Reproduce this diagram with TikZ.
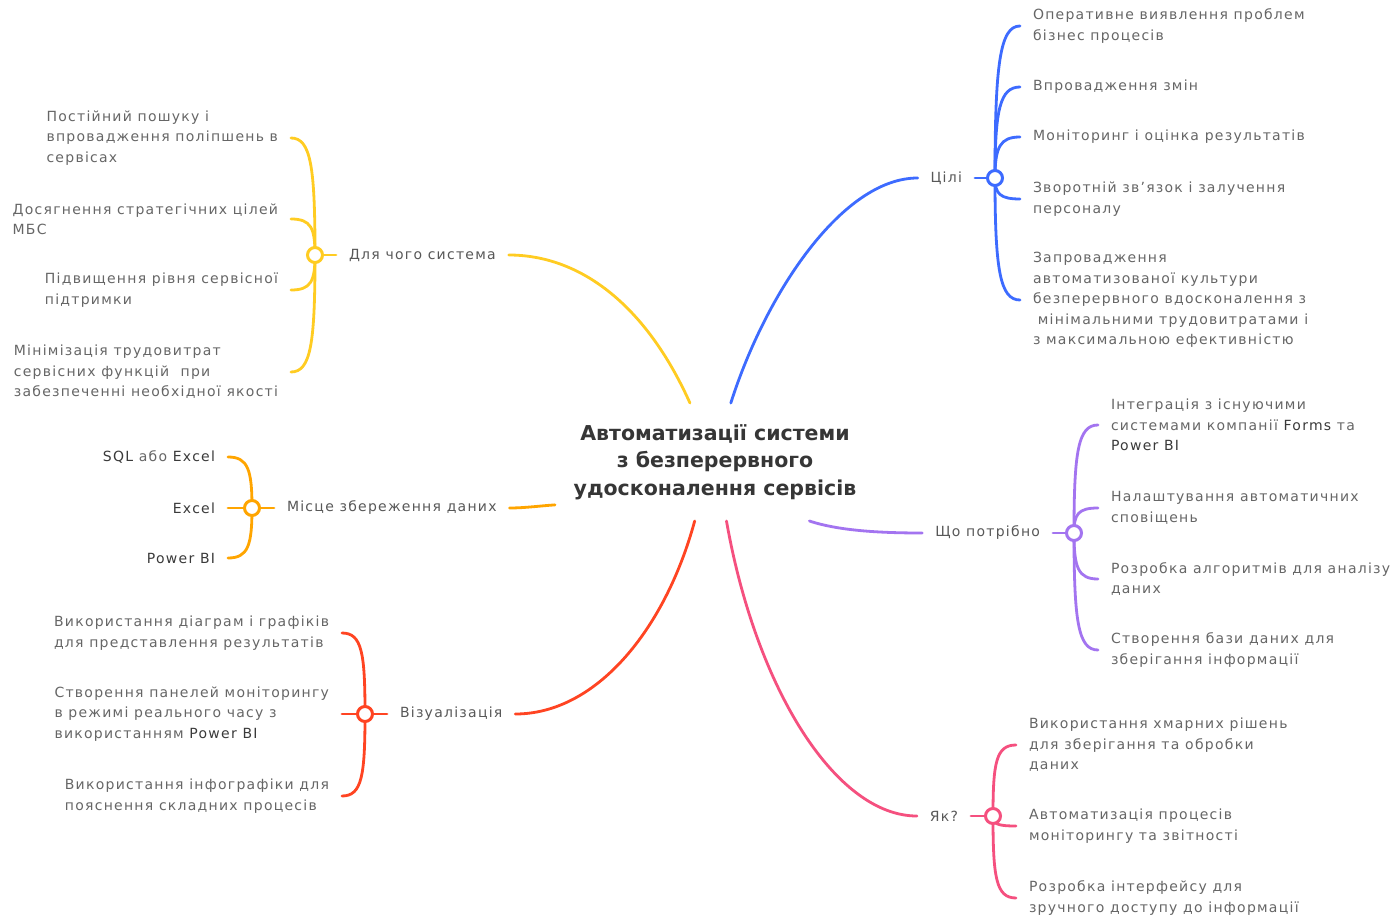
\documentclass[tikz,border=0pt]{standalone}
\usepackage{fontspec}
\setmainfont{DejaVu Sans}[LetterSpace=9]
\newfontfamily\headfont{DejaVu Sans}
\usetikzlibrary{calc,backgrounds}

\definecolor{cYel}{HTML}{FFCC22}
\definecolor{cOra}{HTML}{FFA500}
\definecolor{cRed}{HTML}{FF4422}
\definecolor{cBlu}{HTML}{3D6BFF}
\definecolor{cPur}{HTML}{A374F0}
\definecolor{cPnk}{HTML}{F5507F}
\definecolor{txt}{HTML}{666666}
\definecolor{lbl}{HTML}{585858}
\definecolor{head}{HTML}{363636}
\definecolor{latin}{HTML}{3A3A3A}

% leaf connectors: from a hub to a leaf on its left / right
\newcommand\legL[2]{\draw (#1.center) .. controls ($(#1.center)!0.75!(#1.center |- #2.east)$) and ($(#2.east)+(20,0)$) .. (#2.east);}
\newcommand\legR[2]{\draw (#1.center) .. controls ($(#1.center)!0.75!(#1.center |- #2.west)$) and ($(#2.west)+(-20,0)$) .. (#2.west);}
\newcommand\lat[1]{\textcolor{latin}{#1}}

\begin{document}
\begin{tikzpicture}[x=1pt,y=-1pt,
  every node/.style={inner sep=0pt, outer sep=0pt},
  leaf/.style={font=\fontsize{14}{20.4}\selectfont, text=txt, align=left, inner xsep=13pt, inner ysep=0pt},
  topic/.style={font=\fontsize{14}{20.4}\selectfont, text=lbl, inner xsep=13pt},
  hub/.style={circle, draw, fill=white, line width=3pt, minimum size=15pt, inner sep=0pt},
  link/.style={line width=2.8pt, line cap=round}]
\useasboundingbox (0,0) rectangle (1395,920);

% central topic
\node[minimum width=320pt, minimum height=118pt, align=center, text=head,
      font=\headfont\bfseries\fontsize{20.5}{27.5}\selectfont] (c) at (715,462)
  {Автоматизації системи\\з безперервного\\удосконалення сервісів};

% --- Для чого система (yellow)
\node[hub, draw=cYel] (hY) at (315,255) {};
\node[topic, anchor=west] (tY) at (336,255) {Для чого система};
\node[leaf, anchor=east] (y1) at (291,138) {Постійний пошуку і\\впровадження поліпшень в\\сервісах};
\node[leaf, anchor=east] (y2) at (291,219) {Досягнення стратегічних цілей\\МБС};
\node[leaf, anchor=east] (y3) at (291,290) {Підвищення рівня сервісної\\підтримки};
\node[leaf, anchor=east] (y4) at (291,372) {Мінімізація трудовитрат\\сервісних функцій \ при\\забезпеченні необхідної якості};

% --- Місце збереження даних (orange)
\node[hub, draw=cOra] (hO) at (252,508) {};
\node[topic, anchor=west] (tO) at (274,508) {Місце збереження даних};
\node[leaf, anchor=east] (o1) at (228,457) {\lat{SQL} або \lat{Excel}};
\node[leaf, anchor=east] (o2) at (228,508) {\lat{Excel}};
\node[leaf, anchor=east] (o3) at (228,558) {\lat{Power BI}};

% --- Візуалізація (red)
\node[hub, draw=cRed] (hR) at (365,714) {};
\node[topic, anchor=west] (tR) at (387,714) {Візуалізація};
\node[leaf, anchor=east] (r1) at (342,633) {Використання діаграм і графіків\\для представлення результатів};
\node[leaf, anchor=east] (r2) at (342,714) {Створення панелей моніторингу\\в режимі реального часу з\\використанням \lat{Power BI}};
\node[leaf, anchor=east] (r3) at (342,796) {Використання інфографіки для\\пояснення складних процесів};

% --- Цілі (blue)
\node[hub, draw=cBlu] (hB) at (995,178) {};
\node[topic, anchor=east] (tB) at (975,178) {Цілі};
\node[leaf, anchor=west] (b1) at (1020,26) {Оперативне виявлення проблем\\бізнес процесів};
\node[leaf, anchor=west] (b2) at (1020,87) {Впровадження змін};
\node[leaf, anchor=west] (b3) at (1020,137) {Моніторинг і оцінка результатів};
\node[leaf, anchor=west] (b4) at (1020,199) {Зворотній зв'язок і залучення\\персоналу};
\node[leaf, anchor=west] (b5) at (1020,300) {Запровадження\\автоматизованої культури\\безперервного вдосконалення з\\\hspace{0.35em}мінімальними трудовитратами і\\з максимальною ефективністю};

% --- Що потрібно (purple)
\node[hub, draw=cPur] (hP) at (1074,533) {};
\node[topic, anchor=east] (tP) at (1053,533) {Що потрібно};
\node[leaf, anchor=west] (p1) at (1098,425) {Інтеграція з існуючими\\системами компанії \lat{Forms} та\\\lat{Power BI}};
\node[leaf, anchor=west] (p2) at (1098,508) {Налаштування автоматичних\\сповіщень};
\node[leaf, anchor=west] (p3) at (1098,579) {Розробка алгоритмів для аналізу\\даних};
\node[leaf, anchor=west] (p4) at (1098,650) {Створення бази даних для\\зберігання інформації};

% --- Як? (pink)
\node[hub, draw=cPnk] (hK) at (993,816) {};
\node[topic, anchor=east] (tK) at (971,816) {Як?};
\node[leaf, anchor=west] (k1) at (1016,745) {Використання хмарних рішень\\для зберігання та обробки\\даних};
\node[leaf, anchor=west] (k2) at (1016,826) {Автоматизація процесів\\моніторингу та звітності};
\node[leaf, anchor=west] (k3) at (1016,898) {Розробка інтерфейсу для\\зручного доступу до інформації};

\begin{scope}[on background layer]
  \fill[white] (0,0) rectangle (1395,920);

  % main branches
  \begin{scope}[link]
    \draw[cYel] (c.113) .. controls ($(c.113)+(-45,-100)$) and ($(tY.east)+(70,0)$) .. (tY.east);
    \draw[cBlu] (c.75.7) .. controls ($(c.75.7)+(35,-110)$) and ($(tB.west)+(-75,0)$) .. (tB.west);
    \draw[cOra] (c.195) .. controls ($(c.195)+(-15,1)$) and ($(tO.east)+(15,0)$) .. (tO.east);
    \draw[cPur] (c.328) .. controls ($(c.328)+(30,10)$) and ($(tP.west)+(-40,0)$) .. (tP.west);
    \draw[cRed] (c.251) .. controls ($(c.251)+(-30,110)$) and ($(tR.east)+(80,0)$) .. (tR.east);
    \draw[cPnk] (c.281.7) .. controls ($(c.281.7)+(30,170)$) and ($(tK.west)+(-80,0)$) .. (tK.west);
  \end{scope}

  % hub stubs and leaf connectors
  \begin{scope}[link, cYel]
    \draw (hY) -- (tY.west);
    \legL{hY}{y1} \legL{hY}{y2} \legL{hY}{y3} \legL{hY}{y4}
  \end{scope}
  \begin{scope}[link, cOra]
    \draw (hO) -- (tO.west);
    \legL{hO}{o1} \legL{hO}{o2} \legL{hO}{o3}
  \end{scope}
  \begin{scope}[link, cRed]
    \draw (hR) -- (tR.west);
    \legL{hR}{r1} \legL{hR}{r2} \legL{hR}{r3}
  \end{scope}
  \begin{scope}[link, cBlu]
    \draw (hB) -- (tB.east);
    \legR{hB}{b1} \legR{hB}{b2} \legR{hB}{b3} \legR{hB}{b4} \legR{hB}{b5}
  \end{scope}
  \begin{scope}[link, cPur]
    \draw (hP) -- (tP.east);
    \legR{hP}{p1} \legR{hP}{p2} \legR{hP}{p3} \legR{hP}{p4}
  \end{scope}
  \begin{scope}[link, cPnk]
    \draw (hK) -- (tK.east);
    \legR{hK}{k1} \legR{hK}{k2} \legR{hK}{k3}
  \end{scope}
\end{scope}
\end{tikzpicture}
\end{document}
